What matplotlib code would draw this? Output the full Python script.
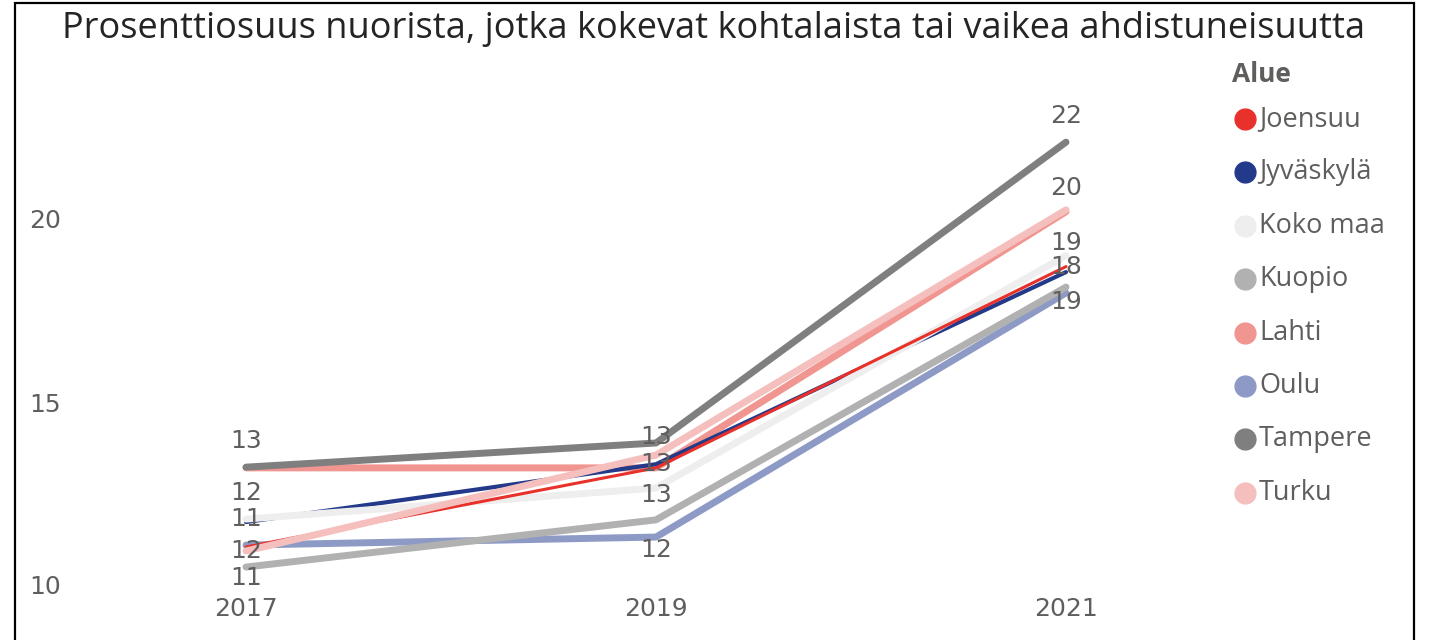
import matplotlib
matplotlib.use("Agg")
import matplotlib.pyplot as plt
from matplotlib.lines import Line2D
from matplotlib.patches import Rectangle

# ---- data ----
years = [2017, 2019, 2021]
series_names = ["Joensuu", "Jyväskylä", "Koko maa", "Kuopio", "Lahti", "Oulu", "Tampere", "Turku"]
joensuu = [11.04, 13.2, 18.7]
jyvaskyla = [11.72, 13.3, 18.55]
koko_maa = [11.8, 12.65, 19.0]
kuopio = [10.49, 11.78, 18.14]
lahti = [13.2, 13.2, 20.2]
oulu = [11.09, 11.31, 17.98]
tampere = [13.22, 13.88, 22.1]
turku = [10.93, 13.55, 20.25]
values = {"Joensuu": joensuu, "Jyväskylä": jyvaskyla, "Koko maa": koko_maa, "Kuopio": kuopio,
          "Lahti": lahti, "Oulu": oulu, "Tampere": tampere, "Turku": turku}
colors = {"Joensuu": "#E8312B", "Jyväskylä": "#233A8A", "Koko maa": "#EEEEEE", "Kuopio": "#B1B1B1",
          "Lahti": "#F0958F", "Oulu": "#8E9AC6", "Tampere": "#7F7F7F", "Turku": "#F5BFBE"}
widths = {"Joensuu": 2.2, "Jyväskylä": 3.0}
draw_order = ["Lahti", "Jyväskylä", "Koko maa", "Oulu", "Joensuu", "Turku", "Kuopio", "Tampere"]

# data labels: (series, year index, text, vertical offset in points)
label_series = ["Tampere", "Koko maa", "Jyväskylä", "Turku", "Kuopio",
                "Tampere", "Jyväskylä", "Koko maa", "Oulu",
                "Tampere", "Turku", "Koko maa", "Joensuu", "Kuopio"]
label_index = [0, 0, 0, 0, 0, 1, 1, 1, 1, 2, 2, 2, 2, 2]
label_text = ["13", "12", "11", "12", "11", "13", "13", "13", "12", "22", "20", "19", "18", "19"]
label_dy = [19, 19, 2, 0, -8, 4, 0, -5, -9, 19, 16, 9, 0, -11]

yticks = [10, 15, 20]
title = "Prosenttiosuus nuorista, jotka kokevat kohtalaista tai vaikea ahdistuneisuutta"
legend_title = "Alue"

W, H = 1429, 640
fig = plt.figure(figsize=(W / 100, H / 100), dpi=100)
fig.patch.set_facecolor("white")

# axes placement in pixels
axL, axR, axT, axB = 100, 1180, 90, 600
ax = fig.add_axes([axL / W, 1 - axB / H, (axR - axL) / W, (axB - axT) / H])
pxyr = (1066 - 246) / 4
ax.set_xlim(2017 - (246 - axL) / pxyr, 2021 + (axR - 1066) / pxyr)
pxu = (585 - 219) / 10
ax.set_ylim(10 - (axB - 585) / pxu, 20 + (219 - axT) / pxu)

tc = "#605E5C"
for name in draw_order:
    ax.plot(years, values[name], color=colors[name], lw=widths.get(name, 5.0),
            solid_capstyle="round", solid_joinstyle="round")

for s, i, t, dy in zip(label_series, label_index, label_text, label_dy):
    ax.annotate(t, (years[i], values[s][i]), xytext=(0, dy), textcoords="offset points",
                ha="center", va="center", fontsize=18, color=tc, family="DejaVu Sans")

ax.set_xticks(years)
ax.set_xticklabels([str(y) for y in years])
ax.set_yticks(yticks)
for sp in ax.spines.values():
    sp.set_visible(False)
ax.tick_params(axis="both", length=0, labelsize=18, labelcolor=tc)
ax.tick_params(axis="y", pad=28)
ax.tick_params(axis="x", pad=-2)
ax.patch.set_alpha(0)

fig.text(714 / W, 1 - 29 / H, title, ha="center", va="center", fontsize=26,
         family="Open Sans", color="#252423")

# legend
fig.text(1232 / W, 1 - 75 / H, legend_title, ha="left", va="center", fontsize=19,
         family="Open Sans", weight="bold", color=tc)
for k, name in enumerate(series_names):
    y = 1 - (119 + 53.4 * k) / H
    fig.add_artist(Line2D([1245 / W], [y], marker="o", markersize=15, color=colors[name],
                          lw=0, transform=fig.transFigure))
    fig.text(1259 / W, y, name, ha="left", va="center", fontsize=19.5, family="Open Sans", color=tc)

fig.add_artist(Rectangle((15 / W, -0.05), (1414 - 15) / W, 1.05 - 3 / H, fill=False,
                         edgecolor="black", lw=1.6, transform=fig.transFigure, clip_on=False))

fig.savefig("out.png", dpi=100)
